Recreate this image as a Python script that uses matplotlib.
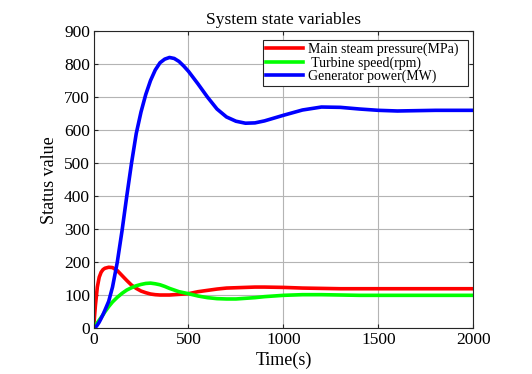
import numpy as np
import matplotlib
matplotlib.use("Agg")
import matplotlib.pyplot as plt

plt.rcParams['font.family'] = ['Liberation Serif', 'DejaVu Serif']

t = [0, 10, 20, 30, 40, 50, 60, 80, 100, 125, 150, 175, 200, 225, 250, 275, 300,
     325, 350, 375, 400, 425, 450, 475, 500, 550, 600, 650, 700, 750, 800, 850,
     900, 1000, 1100, 1200, 1300, 1400, 1500, 1600, 1800, 2000]
steam_pressure = [0, 70, 125, 155, 170, 178, 182, 185, 184, 175, 160, 145, 131, 121,
                  113, 108, 104, 102, 101, 101, 101, 102, 103, 104, 105, 111, 115,
                  119, 122, 123, 124, 125, 125, 124, 122, 121, 120, 120, 120, 120,
                  120, 120]
turbine_speed = [0, 8, 17, 25, 33, 41, 50, 66, 80, 94, 106, 116, 123, 129, 133, 136,
                 137, 135, 132, 127, 121, 116, 111, 108, 105, 98, 93, 90, 89, 89,
                 91, 93, 96, 100, 102, 102, 101, 100, 100, 100, 100, 100]
gen_power = [0, 3, 10, 19, 30, 42, 55, 82, 125, 200, 295, 400, 500, 590, 655, 708,
             750, 782, 804, 815, 820, 817, 808, 794, 778, 740, 700, 664, 640, 627,
             621, 622, 628, 645, 661, 670, 669, 664, 660, 658, 660, 660]

# trailing spaces mimic the wider right margin of the original legend box
series = [
    (steam_pressure, 'Main steam pressure(MPa)  ', '#ff0000'),
    (turbine_speed, ' Turbine speed(rpm)', '#00ff00'),
    (gen_power, 'Generator power(MW)', '#0000ff'),
]

fig = plt.figure(figsize=(5.32, 3.74), dpi=100)
ax = fig.add_axes([0.1758, 0.122, 0.714, 0.795])

for y, label, color in series:
    ax.plot(t, y, color=color, lw=2.6, label=label)

ax.set_xlim(0, 2000)
ax.set_ylim(0, 900)
ax.set_xticks(range(0, 2001, 500))
ax.set_yticks(range(0, 901, 100))
ax.grid(True, color='#b4b4b4', lw=0.8)
ax.tick_params(direction='in', top=True, right=True, labelsize=12.5, length=3,
               pad=2.5, colors='#262626', labelcolor='black')
for s in ax.spines.values():
    s.set_color('#262626')
    s.set_linewidth(0.8)

ax.set_title('System state variables', fontsize=12.5, pad=5)
ax.set_xlabel('Time(s)', fontsize=13, labelpad=3)
ax.set_ylabel('Status value', fontsize=13, labelpad=4)

leg = ax.legend(loc='upper right', bbox_to_anchor=(0.987, 0.970), borderaxespad=0,
                fontsize=10, fancybox=False, framealpha=1, edgecolor='#262626',
                handlelength=2.7, borderpad=0.2, labelspacing=0.0,
                handletextpad=0.35)
leg.get_frame().set_linewidth(0.8)

fig.savefig('out.png', dpi=100)
